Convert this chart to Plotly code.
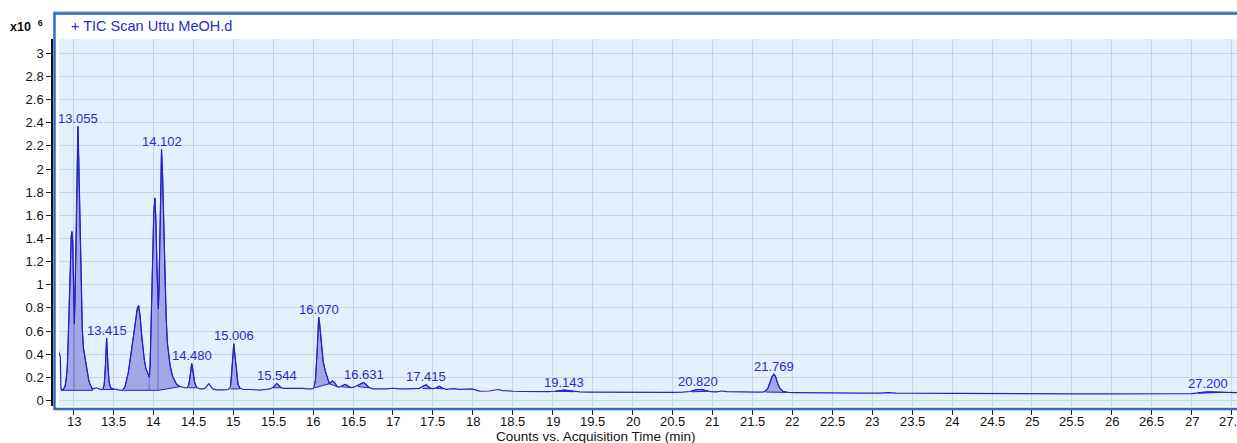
import numpy as np
import plotly.graph_objects as go

# ---- TIC chromatogram (time in min, counts in units of 1e6) ----
time_min = [
    12.81, 12.825, 12.835, 12.842, 12.85, 12.87, 12.894, 12.91, 12.923, 12.935,
    12.948, 12.96, 12.972, 12.98, 12.99, 12.998, 13.005, 13.01, 13.018, 13.031,
    13.045, 13.055, 13.065, 13.078, 13.09, 13.10, 13.11, 13.125, 13.144, 13.16,
    13.173, 13.19, 13.207, 13.225, 13.24, 13.265, 13.29, 13.32, 13.353, 13.37,
    13.385, 13.40, 13.415, 13.43, 13.445, 13.465, 13.50, 13.56, 13.616, 13.645,
    13.686, 13.728, 13.77, 13.80, 13.816, 13.835, 13.854, 13.87, 13.887, 13.905,
    13.924, 13.94, 13.95, 13.96, 13.975, 13.99, 14.005, 14.02, 14.032, 14.045,
    14.055, 14.062, 14.07, 14.08, 14.09, 14.102, 14.115, 14.128, 14.145, 14.16,
    14.175, 14.19, 14.21, 14.24, 14.265, 14.29, 14.32, 14.355, 14.39, 14.425,
    14.445, 14.462, 14.48, 14.495, 14.515, 14.54, 14.58, 14.62, 14.65, 14.675,
    14.697, 14.72, 14.745, 14.79, 14.835, 14.88, 14.94, 14.965, 14.98, 14.993,
    15.006, 15.02, 15.04, 15.06, 15.085, 15.13, 15.21, 15.28, 15.335, 15.40,
    15.46, 15.50, 15.52, 15.544, 15.57, 15.595, 15.63, 15.67, 15.71, 15.75,
    15.80, 15.87, 15.93, 15.98, 16.01, 16.03, 16.05, 16.06, 16.07, 16.082,
    16.095, 16.11, 16.125, 16.15, 16.178, 16.203, 16.225, 16.245, 16.27, 16.30,
    16.33, 16.365, 16.40, 16.43, 16.47, 16.51, 16.56, 16.60, 16.631, 16.66,
    16.70, 16.75, 16.83, 16.92, 17.00, 17.08, 17.17, 17.26, 17.33, 17.38,
    17.415, 17.45, 17.50, 17.55, 17.58, 17.62, 17.67, 17.72, 17.77, 17.83,
    17.90, 17.99, 18.05, 18.09, 18.20, 18.28, 18.32, 18.37, 18.45, 18.51,
    18.60, 18.70, 18.84, 18.95, 19.03, 19.10, 19.143, 19.20, 19.27, 19.34,
    19.45, 19.60, 19.76, 19.90, 20.05, 20.18, 20.35, 20.50, 20.62, 20.72,
    20.78, 20.82, 20.87, 20.93, 20.98, 21.05, 21.115, 21.18, 21.30, 21.45,
    21.58, 21.65, 21.69, 21.72, 21.745, 21.769, 21.79, 21.815, 21.84, 21.88,
    21.95, 22.05, 22.20, 22.35, 22.50, 22.70, 22.90, 23.10, 23.20, 23.30,
    23.50, 23.80, 24.10, 24.40, 24.70, 25.00, 25.30, 25.60, 25.90, 26.20,
    26.50, 26.80, 27.00, 27.08, 27.15, 27.20, 27.30, 27.40, 27.50, 27.57,
]
counts_e6 = [
    0.43, 0.40, 0.38, 0.12, 0.088, 0.095, 0.12, 0.19, 0.30, 0.55,
    0.87, 1.20, 1.42, 1.46, 1.38, 1.10, 0.80, 0.66, 0.85, 1.30,
    1.85, 2.37, 2.10, 1.60, 1.20, 0.90, 0.62, 0.45, 0.36, 0.30,
    0.24, 0.18, 0.14, 0.115, 0.10, 0.105, 0.11, 0.10, 0.095, 0.10,
    0.14, 0.30, 0.54, 0.32, 0.16, 0.11, 0.10, 0.092, 0.088, 0.12,
    0.24, 0.44, 0.64, 0.80, 0.82, 0.72, 0.56, 0.44, 0.35, 0.28,
    0.24, 0.21, 0.20, 0.32, 0.75, 1.30, 1.62, 1.75, 1.55, 1.15,
    0.90, 0.79, 0.95, 1.35, 1.80, 2.17, 1.95, 1.55, 1.05, 0.72,
    0.50, 0.39, 0.30, 0.21, 0.17, 0.14, 0.125, 0.115, 0.11, 0.11,
    0.14, 0.22, 0.32, 0.26, 0.16, 0.115, 0.10, 0.10, 0.108, 0.13,
    0.145, 0.12, 0.10, 0.092, 0.09, 0.092, 0.095, 0.12, 0.22, 0.36,
    0.49, 0.40, 0.24, 0.14, 0.105, 0.095, 0.095, 0.09, 0.09, 0.095,
    0.10, 0.115, 0.135, 0.148, 0.13, 0.112, 0.105, 0.105, 0.108, 0.11,
    0.106, 0.104, 0.10, 0.10, 0.11, 0.18, 0.42, 0.60, 0.72, 0.66,
    0.54, 0.42, 0.34, 0.26, 0.20, 0.145, 0.16, 0.168, 0.155, 0.12,
    0.115, 0.125, 0.14, 0.13, 0.112, 0.115, 0.13, 0.148, 0.155, 0.14,
    0.112, 0.10, 0.097, 0.10, 0.106, 0.10, 0.10, 0.102, 0.105, 0.125,
    0.137, 0.115, 0.10, 0.112, 0.123, 0.108, 0.097, 0.10, 0.102, 0.097,
    0.10, 0.10, 0.088, 0.08, 0.082, 0.088, 0.095, 0.086, 0.08, 0.08,
    0.078, 0.077, 0.075, 0.076, 0.08, 0.088, 0.09, 0.086, 0.078, 0.075,
    0.073, 0.072, 0.07, 0.071, 0.07, 0.07, 0.071, 0.07, 0.072, 0.078,
    0.09, 0.095, 0.094, 0.085, 0.076, 0.075, 0.082, 0.076, 0.073, 0.072,
    0.072, 0.075, 0.10, 0.155, 0.205, 0.228, 0.205, 0.15, 0.11, 0.08,
    0.07, 0.068, 0.066, 0.067, 0.065, 0.064, 0.063, 0.064, 0.068, 0.063,
    0.062, 0.06, 0.06, 0.059, 0.058, 0.058, 0.058, 0.057, 0.057, 0.057,
    0.057, 0.058, 0.06, 0.066, 0.072, 0.074, 0.073, 0.07, 0.068, 0.068,
]

# ---- labelled retention times ----
peak_rt = [13.055, 13.415, 14.102, 14.480, 15.006, 15.544, 16.070,
           16.631, 17.415, 19.143, 20.820, 21.769, 27.200]

# ---- integration windows (start, end) with baseline levels ----
win_start = [12.845, 13.01, 13.37, 13.63, 13.95, 14.062, 14.44, 14.965,
             15.50, 16.02, 16.203, 16.35, 16.56, 17.37, 17.54, 19.03,
             20.74, 21.67, 27.08]
win_end = [13.01, 13.24, 13.50, 13.95, 14.062, 14.34, 14.55, 15.08,
           15.60, 16.203, 16.30, 16.46, 16.70, 17.47, 17.63, 19.26,
           20.95, 21.93, 27.40]
win_base_start = [0.088, 0.088, 0.095, 0.088, 0.088, 0.088, 0.11, 0.10,
                  0.11, 0.11, 0.145, 0.12, 0.12, 0.105, 0.105, 0.08,
                  0.075, 0.073, 0.063]
win_base_end = [0.088, 0.088, 0.095, 0.088, 0.088, 0.12, 0.11, 0.10,
                0.11, 0.145, 0.12, 0.112, 0.11, 0.10, 0.10, 0.076,
                0.08, 0.07, 0.07]

# ---- axis ticks ----
y_tick_vals = [0, 0.2, 0.4, 0.6, 0.8, 1, 1.2, 1.4, 1.6, 1.8, 2, 2.2, 2.4,
               2.6, 2.8, 3]
y_tick_text = ["0", "0.2", "0.4", "0.6", "0.8", "1", "1.2", "1.4", "1.6",
               "1.8", "2", "2.2", "2.4", "2.6", "2.8", "3"]
x_tick_vals = [13, 13.5, 14, 14.5, 15, 15.5, 16, 16.5, 17, 17.5, 18, 18.5,
               19, 19.5, 20, 20.5, 21, 21.5, 22, 22.5, 23, 23.5, 24, 24.5,
               25, 25.5, 26, 26.5, 27, 27.5]
x_tick_text = ["13", "13.5", "14", "14.5", "15", "15.5", "16", "16.5", "17",
               "17.5", "18", "18.5", "19", "19.5", "20", "20.5", "21", "21.5",
               "22", "22.5", "23", "23.5", "24", "24.5", "25", "25.5", "26",
               "26.5", "27", "27.5"]

# ---- styling ----
W, H = 1237, 443
ML, MT, MB = 52, 13, 34
LINE = "#2222C8"
FILL = "#A4A7E6"
LABEL = "#2A2ACC"
FRAME = "#2E6BC6"
FRAME_HI = "#8FB3E4"
BG = "#E3F0FD"
GRID = "#C6D4E3"
FONT = "Liberation Sans, Arial, sans-serif"
TICK_FONT = dict(family=FONT, size=13, color="#111")


def px_x(px):
    return (px - ML) / (W - ML)


def px_y(py):
    return (H - MB - py) / (H - MT - MB)


t = np.array(time_min)
c = np.array(counts_e6)

fig = go.Figure()

# shaded integrated peak areas
for t0, t1, b0, b1 in zip(win_start, win_end, win_base_start, win_base_end):
    inside = (t > t0) & (t < t1)
    xs = [t0] + list(t[inside]) + [t1, t1, t0]
    ys = [float(np.interp(t0, t, c))] + list(c[inside]) + \
         [float(np.interp(t1, t, c)), b1, b0]
    fig.add_trace(go.Scatter(
        x=xs, y=ys, mode="lines", fill="toself", fillcolor=FILL,
        line=dict(color=LINE, width=1), hoverinfo="skip", showlegend=False))

# chromatogram trace
fig.add_trace(go.Scatter(
    x=time_min, y=counts_e6, mode="lines",
    line=dict(color=LINE, width=1.2), showlegend=False))

# retention time labels, centred just above each apex
for rt in peak_rt:
    fig.add_annotation(
        x=rt, y=float(np.interp(rt, t, c)), text=f"{rt:.3f}",
        showarrow=False, yanchor="middle", yshift=8,
        font=dict(family=FONT, size=13, color=LABEL))

# chart frame
fig.add_shape(type="line", xref="paper", yref="paper",
              x0=px_x(53.5), x1=1.01, y0=px_y(11.8), y1=px_y(11.8),
              line=dict(color=FRAME_HI, width=1))
fig.add_shape(type="line", xref="paper", yref="paper",
              x0=px_x(54.5), x1=px_x(54.5), y0=px_y(409.5), y1=px_y(12.5),
              line=dict(color=FRAME, width=2.5))
fig.add_shape(type="line", xref="paper", yref="paper",
              x0=px_x(53.5), x1=1.01, y0=px_y(13.5), y1=px_y(13.5),
              line=dict(color=FRAME, width=2.5))
fig.add_shape(type="line", xref="paper", yref="paper",
              x0=px_x(53.5), x1=1.01, y0=px_y(409), y1=px_y(409),
              line=dict(color=FRAME, width=2.5))

# time axis labels, set close under the tick marks
for val, txt in zip(x_tick_vals, x_tick_text):
    fig.add_annotation(
        x=val, xref="x", yref="paper", y=px_y(421),
        xanchor="center", yanchor="middle", showarrow=False,
        text=txt, font=TICK_FONT)

# chart title and scale factor
fig.add_annotation(
    xref="paper", yref="paper", x=px_x(69), y=px_y(26), xanchor="left",
    yanchor="middle", showarrow=False, text="+ TIC Scan Uttu MeOH.d",
    font=dict(family=FONT, size=14.5, color=LABEL))
fig.add_annotation(
    xref="paper", yref="paper", x=px_x(8), y=px_y(26), xanchor="left",
    yanchor="middle", showarrow=False, text="<b>x10  <sup>6</sup></b>",
    font=dict(family=FONT, size=12.5, color="#111"))
fig.add_annotation(
    xref="paper", yref="paper", x=px_x(596), y=px_y(436.5), xanchor="center",
    yanchor="middle", showarrow=False,
    text="Counts vs. Acquisition Time (min)",
    font=dict(family=FONT, size=13.5, color="#111"))

fig.update_layout(
    width=W, height=H,
    margin=dict(l=ML, r=0, t=MT, b=MB, pad=0),
    paper_bgcolor="white", plot_bgcolor=BG,
    showlegend=False,
    xaxis=dict(
        domain=[px_x(59), 1], range=[12.8185, 27.567],
        anchor="free", position=0,
        tickmode="array", tickvals=x_tick_vals, showticklabels=False,
        ticks="outside", ticklen=5, tickcolor="#222", tickwidth=1,
        showgrid=True, gridcolor=GRID, gridwidth=1.2,
        zeroline=False, showline=False),
    yaxis=dict(
        domain=[px_y(406), px_y(39)], range=[-0.0475, 3.1236],
        anchor="free", position=0,
        tickmode="array", tickvals=y_tick_vals, ticktext=y_tick_text,
        ticks="outside", ticklen=5, tickcolor="#222", tickwidth=1,
        showgrid=True, gridcolor=GRID, gridwidth=1.2,
        zeroline=False, showline=True, linecolor="#111", linewidth=1.5,
        tickfont=TICK_FONT),
)

fig.write_html("out.html")
